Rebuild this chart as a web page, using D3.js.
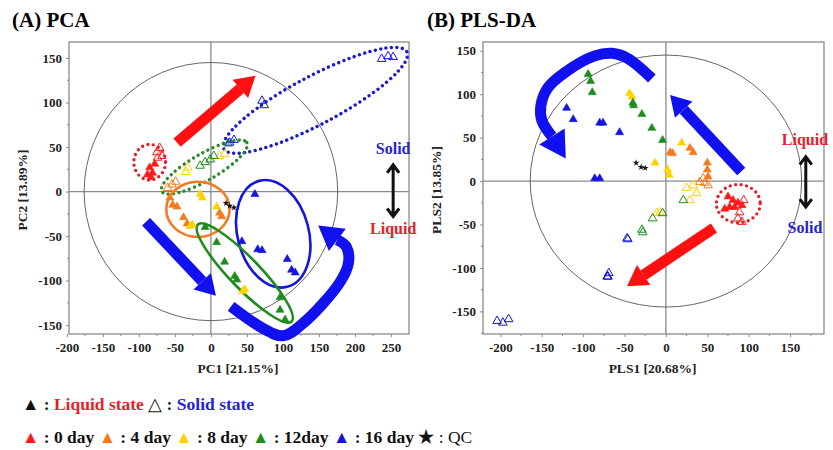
<!DOCTYPE html>
<html>
<head>
<meta charset="utf-8">
<script src="https://cdn.jsdelivr.net/npm/d3@7"></script>
<style>
  body { margin: 0; background: #fff; }
  svg, svg text { font-family: "Liberation Serif", "Times New Roman", serif; }
</style>
</head>
<body>
<script>
// days and colours of the groups
var days = ["0 day", "4 day", "8 day", "12day", "16 day"];
var dayColors = ["#ff1a1a", "#f47a20", "#ffd200", "#1e8c1e", "#1414e0"];

// PCA scores: [day index, PC1, PC2]
var pcaLiquid = [
  [0,-85,27],[0,-81,21],[0,-88,19],[0,-78,31],[0,-83,16],
  [1,-57,-7],[1,-53,-15],[1,-47,-17],[1,-38,-29],[1,-33,-36],[1,12,-24],[1,15,-28],
  [2,-26,-37],[2,-29,-39],[2,-15,-3],[2,-12,-7],[2,8,-17],[2,44,-112],[2,47,-110],
  [3,-8,-40],[3,8,-57],[3,19,-79],[3,33,-95],[3,36,-99],[3,96,-119],[3,96,-133],[3,103,-144],
  [4,61,-3],[4,43,-56],[4,65,-65],[4,71,-66],[4,106,-76],[4,112,-88],[4,117,-91]
];
var pcaSolid = [
  [0,-75,44],[0,-71,49],[0,-74,38],[0,-68,40],
  [1,-54,8],[1,-49,11],[1,-60,4],
  [2,-35,22],[2,-32,27],[2,12,40],[2,19,42],
  [3,-15,29],[3,-8,33],[3,-1,36],[3,4,40],[3,24,54],
  [4,237,149],[4,246,152],[4,253,151],[4,71,102],[4,74,97],[4,26,55],[4,32,58]
];
var pcaQC = [[21,-13],[26,-16],[32,-18]];

// PLS-DA scores: [day index, PLS1, PLS2]
var plsLiquid = [
  [0,75,-18],[0,81,-22],[0,87,-25],[0,92,-28],[0,83,-30],[0,77,-30],[0,71,-32],
  [1,5,33],[1,8,32],[1,29,38],[1,33,33],[1,50,21],[1,50,13],[1,51,5],
  [2,-44,101],[2,-41,97],[2,19,44],[2,-13,21],[2,2,13],[2,4,7],
  [3,-94,123],[3,-91,115],[3,-89,102],[3,-40,90],[3,-39,87],[3,-29,77],[3,-17,61],[3,-4,47],
  [4,-120,84],[4,-112,71],[4,-80,67],[4,-76,67],[4,-56,56],[4,-86,3],[4,-80,3]
];
var plsSolid = [
  [0,89,-36],[0,87,-43],[0,92,-47],[0,94,-22],
  [1,41,-1],[1,47,-2],[1,51,-5],[1,45,3],
  [2,25,-8],[2,33,-5],[2,37,-14],[2,29,-22],[2,-11,-37],[2,-7,-36],
  [3,21,-22],[3,-16,-43],[3,-4,-37],[3,-29,-56],[3,-28,-59],
  [4,-47,-66],[4,-46,-67],[4,-71,-110],[4,-70,-110],[4,-69,-106],[4,-204,-161],[4,-197,-163],[4,-190,-159]
];
var plsQC = [[-36,21],[-30,16],[-25,15]];

var pcaXTicks = [-200,-150,-100,-50,0,50,100,150,200,250];
var pcaYTicks = [-150,-100,-50,0,50,100,150];
var plsXTicks = [-200,-150,-100,-50,0,50,100,150];
var plsYTicks = [-150,-100,-50,0,50,100,150];

var width = 833, height = 450;
var svg = d3.select("body").append("svg")
    .attr("width", width)
    .attr("height", height);

function triangle(size) { return d3.symbol(d3.symbolTriangle, size)(); }

function drawPanel(p) {
  var x = d3.scaleLinear().domain(p.xDomain).range([p.left, p.right]);
  var y = d3.scaleLinear().domain(p.yDomain).range([p.bottom, p.top]);
  var g = svg.append("g");

  // title
  g.append("text")
    .attr("x", p.titleX).attr("y", 27)
    .attr("font-size", 21).attr("font-weight", "bold")
    .text(p.title);

  // frame
  g.append("rect")
    .attr("x", p.left).attr("y", p.top)
    .attr("width", p.right - p.left).attr("height", p.bottom - p.top)
    .attr("fill", "none").attr("stroke", "#8a8a8a").attr("stroke-width", 1.3);

  // zero lines
  g.append("line").attr("x1", x(0)).attr("x2", x(0)).attr("y1", p.top).attr("y2", p.bottom)
    .attr("stroke", "#8a8a8a").attr("stroke-width", 1.3);
  g.append("line").attr("x1", p.left).attr("x2", p.right).attr("y1", y(0)).attr("y2", y(0))
    .attr("stroke", "#8a8a8a").attr("stroke-width", 1.3);

  // axes
  var xAxis = g.append("g")
    .attr("transform", "translate(0," + p.bottom + ")")
    .call(d3.axisBottom(x).tickValues(p.xTicks).tickSize(3).tickPadding(6).tickFormat(function(d) { return String(d); }));
  var yAxis = g.append("g")
    .attr("transform", "translate(" + p.left + ",0)")
    .call(d3.axisLeft(y).tickValues(p.yTicks).tickSize(3).tickPadding(4).tickFormat(function(d) { return String(d); }));
  [xAxis, yAxis].forEach(function(a) {
    a.attr("font-family", null).attr("font-size", null);
    a.select(".domain").remove();
    a.selectAll(".tick line").attr("stroke", "#8a8a8a");
    a.selectAll(".tick text")
      .style("font-family", '"Liberation Serif", serif')
      .style("font-weight", "bold").style("font-size", "13px").attr("fill", "#222");
  });
  // minor ticks
  var xm = d3.range(p.xTicks[0] - 25, p.xDomain[1], 25).filter(function(v) { return v > p.xDomain[0] && v % 50 !== 0; });
  var ym = d3.range(p.yTicks[0] - 25, p.yDomain[1], 25).filter(function(v) { return v > p.yDomain[0] && v % 50 !== 0; });
  g.selectAll(".xm").data(xm).enter().append("line")
    .attr("x1", function(d) { return x(d); }).attr("x2", function(d) { return x(d); })
    .attr("y1", p.bottom).attr("y2", p.bottom + 2).attr("stroke", "#8a8a8a");
  g.selectAll(".ym").data(ym).enter().append("line")
    .attr("y1", function(d) { return y(d); }).attr("y2", function(d) { return y(d); })
    .attr("x1", p.left).attr("x2", p.left - 2).attr("stroke", "#8a8a8a");

  // axis titles
  g.append("text")
    .attr("x", (p.left + p.right) / 2 + p.xLabelShift).attr("y", 373)
    .attr("text-anchor", "middle").attr("font-size", 13.5).attr("font-weight", "bold")
    .attr("fill", "#222").text(p.xLabel);
  g.append("text")
    .attr("transform", "translate(" + p.yLabelX + ",190) rotate(-90)")
    .attr("text-anchor", "middle").attr("font-size", 13.5).attr("font-weight", "bold")
    .attr("fill", "#222").text(p.yLabel);

  // Hotelling T2 ellipse
  g.append("ellipse")
    .attr("cx", x(0)).attr("cy", y(0))
    .attr("rx", x(p.hotelling[0]) - x(0)).attr("ry", y(0) - y(p.hotelling[1]))
    .attr("fill", "none").attr("stroke", "#555").attr("stroke-width", 0.9);

  // group ellipses
  p.ellipses.forEach(function(e) {
    var ax = x(e.a[0]), ay = y(e.a[1]), bx = x(e.b[0]), by = y(e.b[1]);
    var ang = Math.atan2(by - ay, bx - ax) * 180 / Math.PI;
    g.append("ellipse")
      .attr("transform", "translate(" + (ax + bx) / 2 + "," + (ay + by) / 2 + ") rotate(" + ang + ")")
      .attr("rx", Math.hypot(bx - ax, by - ay) / 2)
      .attr("ry", Math.abs(y(0) - y(e.w)))
      .attr("fill", "none").attr("stroke", e.color)
      .attr("stroke-width", e.dotted ? 3.4 : 2.6)
      .attr("stroke-linecap", "round")
      .attr("stroke-dasharray", e.dotted ? "0 5.5" : null);
  });

  // points
  function drawPoints(data, open) {
    g.selectAll(null).data(data).enter().append("path")
      .attr("transform", function(d) { return "translate(" + x(d[1]) + "," + y(d[2]) + ")"; })
      .attr("d", triangle(open ? 32 : 28))
      .attr("fill", function(d) { return open ? "none" : dayColors[d[0]]; })
      .attr("stroke", function(d) { return dayColors[d[0]]; })
      .attr("stroke-width", open ? 1 : 0.6);
  }
  drawPoints(p.solid, true);
  drawPoints(p.liquid, false);
  g.selectAll(null).data(p.qc).enter().append("path")
    .attr("transform", function(d) { return "translate(" + x(d[0]) + "," + y(d[1]) + ")"; })
    .attr("d", d3.symbol(d3.symbolStar, 14)())
    .attr("fill", "#111");

  // thick arrows
  p.arrows.forEach(function(a) {
    var pts = a.pts.map(function(d) { return [x(d[0]), y(d[1])]; });
    var tip = pts[pts.length - 1], prev = pts[pts.length - 2];
    var len = Math.hypot(tip[0] - prev[0], tip[1] - prev[1]);
    var ux = (tip[0] - prev[0]) / len, uy = (tip[1] - prev[1]) / len;
    var base = [tip[0] - ux * a.head, tip[1] - uy * a.head];
    var shaft = pts.slice(0, -1);
    if (len > a.head + 1) shaft.push(base); else shaft[shaft.length - 1] = base;
    var line = d3.line().curve(shaft.length > 2 ? d3.curveCatmullRom : d3.curveLinear);
    g.append("path").attr("d", line(shaft))
      .attr("fill", "none").attr("stroke", a.color).attr("stroke-width", a.width);
    var hw = a.headW;
    g.append("path")
      .attr("d", "M" + tip + "L" + [base[0] - uy * hw, base[1] + ux * hw] + "L" + [base[0] + uy * hw, base[1] - ux * hw] + "Z")
      .attr("fill", a.color);
  });

  // state labels and double arrow
  g.append("text").attr("x", x(p.state.x)).attr("y", y(p.state.top))
    .attr("text-anchor", "middle").attr("font-size", 16).attr("font-weight", "bold")
    .attr("fill", p.state.topColor).text(p.state.topText);
  g.append("text").attr("x", x(p.state.x)).attr("y", y(p.state.bottom))
    .attr("text-anchor", "middle").attr("font-size", 16).attr("font-weight", "bold")
    .attr("fill", p.state.bottomColor).text(p.state.bottomText);
  var ax0 = x(p.state.arrowX), ay1 = y(p.state.a1), ay2 = y(p.state.a2);
  g.append("path")
    .attr("d", "M" + ax0 + "," + ay1 + "V" + ay2 +
      "M" + (ax0 - 6) + "," + (ay1 + 8) + "L" + ax0 + "," + ay1 + "L" + (ax0 + 6) + "," + (ay1 + 8) +
      "M" + (ax0 - 6) + "," + (ay2 - 8) + "L" + ax0 + "," + ay2 + "L" + (ax0 + 6) + "," + (ay2 - 8))
    .attr("fill", "none").attr("stroke", "#111").attr("stroke-width", 3)
    .attr("stroke-linejoin", "miter");
}

drawPanel({
  title: "(A) PCA", titleX: 12,
  left: 69, right: 409, top: 42, bottom: 334,
  xDomain: [-197, 275], yDomain: [-160, 168],
  xTicks: pcaXTicks, yTicks: pcaYTicks,
  xLabel: "PC1 [21.15%]", xLabelShift: -1, yLabel: "PC2 [13.89%]", yLabelX: 27,
  hotelling: [176, 145],
  liquid: pcaLiquid, solid: pcaSolid, qc: pcaQC,
  ellipses: [
    { a: [18, 48], b: [272, 157], w: 27, color: "#1a1ad8", dotted: true },
    { a: [-68, 0], b: [50, 55], w: 15, color: "#2a8a2a", dotted: true },
    { a: [-107, 33], b: [-63, 33], w: 20, color: "#e0202a", dotted: true },
    { a: [-62, -20], b: [26, -20], w: 31, color: "#f47a20", dotted: false },
    { a: [67, 12], b: [106, -107], w: 40, color: "#1414e0", dotted: false },
    { a: [-18, -37], b: [112, -146], w: 17, color: "#1e8c1e", dotted: false }
  ],
  arrows: [
    { pts: [[-47, 55], [62, 130]], color: "#ff1010", width: 11, head: 20, headW: 12 },
    { pts: [[-90, -34], [7, -117]], color: "#1010f0", width: 11, head: 20, headW: 12 },
    { pts: [[28, -129], [71, -153], [100, -162], [128, -148], [179, -102], [191, -80], [188, -62], [149, -38]],
      color: "#1010f0", width: 11, head: 24, headW: 14 }
  ],
  state: { x: 253, top: 42, bottom: -48, topText: "Solid", topColor: "#2424d4",
           bottomText: "Liquid", bottomColor: "#e8202a", arrowX: 253, a1: 30, a2: -28 }
});

drawPanel({
  title: "(B) PLS-DA", titleX: 427,
  left: 483, right: 824, top: 42, bottom: 334,
  xDomain: [-221, 191], yDomain: [-176, 160],
  xTicks: plsXTicks, yTicks: plsYTicks,
  xLabel: "PLS1 [20.68%]", xLabelShift: -1, yLabel: "PLS2 [13.85%]", yLabelX: 441,
  hotelling: [164, 145],
  liquid: plsLiquid, solid: plsSolid, qc: plsQC,
  ellipses: [
    { a: [61, -26], b: [114, -26], w: 22, color: "#e0202a", dotted: true }
  ],
  arrows: [
    { pts: [[91, 11], [5, 99]], color: "#1010f0", width: 11, head: 20, headW: 12 },
    { pts: [[58, -54], [-47, -121]], color: "#ff1010", width: 11, head: 20, headW: 12 },
    { pts: [[-17, 118], [-46, 141], [-65, 147], [-86, 144], [-122, 125], [-143, 107], [-151, 87], [-150, 70], [-121, 26]],
      color: "#1010f0", width: 11, head: 26, headW: 15 }
  ],
  state: { x: 168, top: 41, bottom: -60, topText: "Liquid", topColor: "#e8202a",
           bottomText: "Solid", bottomColor: "#2424d4", arrowX: 169, a1: 28, a2: -30 }
});

// legend
var leg1 = svg.append("text").attr("x", 22).attr("y", 410)
  .attr("font-size", 17.5).attr("font-weight", "bold");
leg1.append("tspan").attr("fill", "#111").text("▲ : ");
leg1.append("tspan").attr("fill", "#e8202a").text("Liquid state ");
leg1.append("tspan").attr("fill", "#111").attr("font-weight", "normal").text("△");
leg1.append("tspan").attr("fill", "#111").text(" : ");
leg1.append("tspan").attr("fill", "#2424d4").text("Solid state");

var leg2 = svg.append("text").attr("x", 22).attr("y", 443)
  .attr("font-size", 17.5).attr("font-weight", "bold");
days.forEach(function(d, i) {
  leg2.append("tspan").attr("fill", dayColors[i]).text("▲");
  leg2.append("tspan").attr("fill", "#111").text(" : " + d + " ");
});
leg2.append("tspan").attr("fill", "#111").text("★");
leg2.append("tspan").attr("fill", "#111").attr("font-weight", "normal").text(" : QC");
</script>
</body>
</html>
